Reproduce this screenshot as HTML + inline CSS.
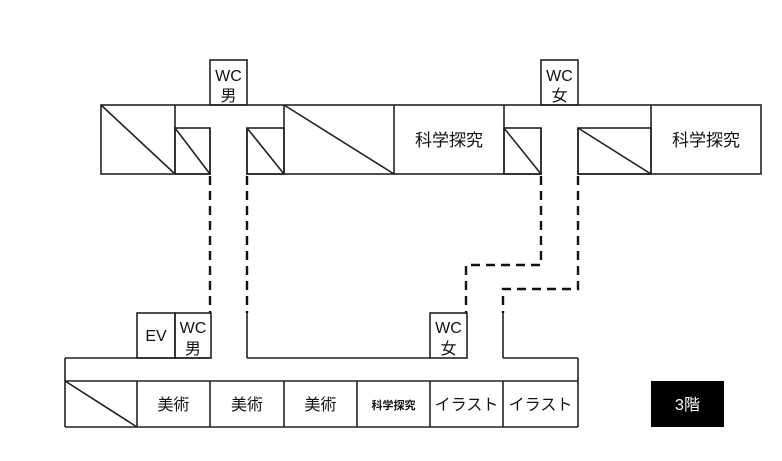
<!DOCTYPE html>
<html><head><meta charset="utf-8"><style>
html,body{margin:0;padding:0;background:#fff;}
svg{display:block;}
text{font-family:"Liberation Sans","Noto Sans CJK JP",sans-serif;font-size:16px;fill:#111;}
</style></head><body>
<svg width="782" height="461" viewBox="0 0 782 461" xmlns="http://www.w3.org/2000/svg">
<g fill="none" stroke="#222" stroke-width="1.6">
<rect x="210" y="60" width="37" height="45"/>
<rect x="541" y="60" width="37" height="45"/>
<rect x="101" y="105" width="660" height="69"/>
<line x1="175" y1="105" x2="175" y2="174"/>
<rect x="175" y="128" width="35" height="46"/>
<line x1="175" y1="128" x2="210" y2="174"/>
<rect x="247" y="128" width="37" height="46"/>
<line x1="247" y1="128" x2="284" y2="174"/>
<line x1="101" y1="105" x2="175" y2="174"/>
<line x1="284" y1="105" x2="284" y2="174"/>
<line x1="284" y1="105" x2="394" y2="174"/>
<line x1="394" y1="105" x2="394" y2="174"/>
<line x1="504" y1="105" x2="504" y2="174"/>
<rect x="504" y="128" width="37" height="46"/>
<line x1="504" y1="128" x2="541" y2="174"/>
<rect x="578" y="128" width="73" height="46"/>
<line x1="578" y1="128" x2="651" y2="174"/>
<line x1="651" y1="105" x2="651" y2="174"/>
</g>
<rect x="211" y="106" width="35" height="70" fill="#fff"/>
<rect x="542" y="106" width="35" height="70" fill="#fff"/>
<g fill="none" stroke="#222" stroke-width="1.6">
<line x1="210" y1="128" x2="210" y2="174"/>
<line x1="247" y1="128" x2="247" y2="174"/>
<line x1="541" y1="128" x2="541" y2="174"/>
<line x1="578" y1="128" x2="578" y2="174"/>
</g>
<g fill="none" stroke="#111" stroke-width="2.4" stroke-dasharray="9,6">
<polyline points="210,176 210,313"/>
<polyline points="247,176 247,313"/>
<polyline points="541,176 541,265 466,265 466,313"/>
<polyline points="578,176 578,289 503,289 503,313"/>
</g>
<g fill="none" stroke="#222" stroke-width="1.6">
<rect x="137" y="313" width="38" height="45"/>
<rect x="175" y="313" width="36" height="45"/>
<rect x="430" y="313" width="37" height="45"/>
<line x1="247" y1="313" x2="247" y2="358"/>
<line x1="247" y1="358" x2="430" y2="358"/>
<line x1="503" y1="313" x2="503" y2="358"/>
<line x1="503" y1="358" x2="578" y2="358"/>
<line x1="65" y1="358" x2="211" y2="358"/>
<line x1="65" y1="358" x2="65" y2="427"/>
<line x1="578" y1="358" x2="578" y2="427"/>
<line x1="65" y1="381" x2="578" y2="381"/>
<line x1="65" y1="427" x2="578" y2="427"/>
<line x1="65" y1="381" x2="137" y2="427"/>
<line x1="137" y1="381" x2="137" y2="427"/>
<line x1="210" y1="381" x2="210" y2="427"/>
<line x1="284" y1="381" x2="284" y2="427"/>
<line x1="357" y1="381" x2="357" y2="427"/>
<line x1="430" y1="381" x2="430" y2="427"/>
<line x1="503" y1="381" x2="503" y2="427"/>
</g>
<rect x="651" y="381" width="73" height="46" fill="#000"/>
<g text-anchor="middle">
<text x="228.5" y="81">WC</text><text x="228.5" y="101">男</text>
<text x="559.5" y="81">WC</text><text x="559.5" y="101">女</text>
<text x="449" y="146" style="font-size:17px">科学探究</text>
<text x="706" y="146" style="font-size:17px">科学探究</text>
<text x="156" y="341">EV</text>
<text x="193" y="333">WC</text><text x="193" y="354">男</text>
<text x="448.5" y="333">WC</text><text x="448.5" y="354">女</text>
<text x="173.5" y="410">美術</text>
<text x="247" y="410">美術</text>
<text x="320.5" y="410">美術</text>
<text x="393.5" y="409" style="font-size:11px;font-weight:bold">科学探究</text>
<text x="466.5" y="410">イラスト</text>
<text x="540.5" y="410">イラスト</text>
<text x="687.5" y="410" style="fill:#fff">3階</text>
</g>
</svg>
</body></html>
